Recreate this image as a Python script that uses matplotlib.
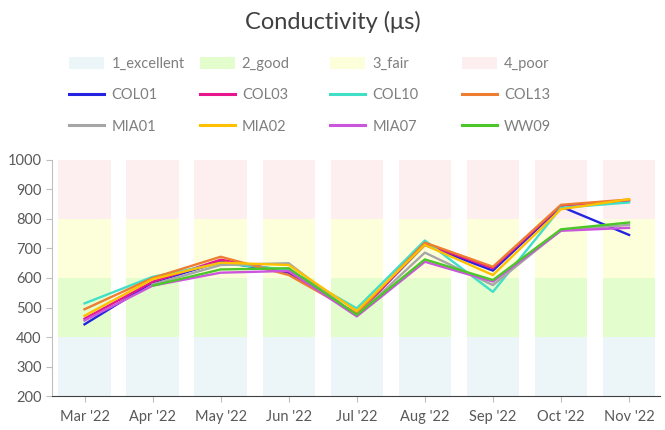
import numpy as np
import matplotlib.pyplot as plt
from matplotlib.patches import Patch
from matplotlib.lines import Line2D

plt.rcParams["font.family"] = ["Lato", "DejaVu Sans"]

months = ["Mar '22", "Apr '22", "May '22", "Jun '22", "Jul '22",
          "Aug '22", "Sep '22", "Oct '22", "Nov '22"]

# quality bands (stacked bars)
band_names = ["1_excellent", "2_good", "3_fair", "4_poor"]
band_sizes = [400, 200, 200, 200]
band_colors = ["#ECF5F8", "#E4FDCC", "#FDFFDB", "#FDEFEF"]

nan = np.nan
COL01 = [443, 585, 655, 618, 478, 712, 625, 842, 746]
COL03 = [462, 587, 662, 622, 475, 716, 633, 845, 862]
COL10 = [514, 604, 650, 628, 497, 727, 553, 838, 856]
COL13 = [494, 600, 672, 610, 480, 720, 638, 848, 866]
MIA01 = [nan, 578, 644, 650, 472, 686, 576, 762, 780]
MIA02 = [472, 596, 652, 644, 488, 712, 610, 833, 867]
MIA07 = [456, 574, 618, 624, 470, 655, 588, 760, 770]
WW09 = [nan, 574, 629, 633, 475, 663, 593, 765, 788]

series = {"COL01": COL01, "COL03": COL03, "COL10": COL10, "COL13": COL13,
          "MIA01": MIA01, "MIA02": MIA02, "MIA07": MIA07, "WW09": WW09}
line_colors = {"COL01": "#2424E0", "COL03": "#E8168C", "COL10": "#40E0C8",
               "COL13": "#ED7D31", "MIA01": "#A6A6A6", "MIA02": "#FFC000",
               "MIA07": "#CC55DD", "WW09": "#4CC72A"}

fig = plt.figure(figsize=(6.65, 4.3), dpi=100)
ax = fig.add_axes([0.078, 0.079, 0.914, 0.549])

x = np.arange(len(months))
bottom = np.zeros(len(months))
for name, size, c in zip(band_names, band_sizes, band_colors):
    ax.bar(x, [size] * len(months), 0.77, bottom=bottom, color=c, zorder=1)
    bottom += size

for name, vals in series.items():
    ax.plot(x, vals, color=line_colors[name], lw=1.7, zorder=3)

ax.set_ylim(200, 1000)
ax.set_xlim(-0.48, 8.45)
ax.set_xticks(x)
ax.set_xticklabels(months)
ax.set_yticks(range(200, 1001, 100))
ax.tick_params(axis="both", labelsize=10.5, colors="#595959", length=4,
               color="#BFBFBF")
ax.tick_params(axis="x", pad=6)
for s in ["top", "right"]:
    ax.spines[s].set_visible(False)
ax.spines["left"].set_color("#BFBFBF")
ax.spines["bottom"].set_color("#404040")

fig.suptitle("Conductivity (\u03bcs)", y=0.975, fontsize=17, color="#404040")

# legend: 4 equally spaced columns
col_x = [0.104, 0.30, 0.496, 0.694]
names = list(series.keys())
for i in range(4):
    handles = [Patch(facecolor=band_colors[i], edgecolor="none"),
               Line2D([], [], color=line_colors[names[i]], lw=2.2),
               Line2D([], [], color=line_colors[names[i + 4]], lw=2.2)]
    labels = [band_names[i], names[i], names[i + 4]]
    leg = fig.legend(handles, labels, loc="upper left",
                     bbox_to_anchor=(col_x[i], 0.868), frameon=False,
                     fontsize=10.5, handlelength=2.4, handleheight=0.9,
                     handletextpad=0.5, labelspacing=1.2, borderpad=0,
                     borderaxespad=0)
    for t in leg.get_texts():
        t.set_color("#7F7F7F")

fig.savefig("out.png", dpi=100)
